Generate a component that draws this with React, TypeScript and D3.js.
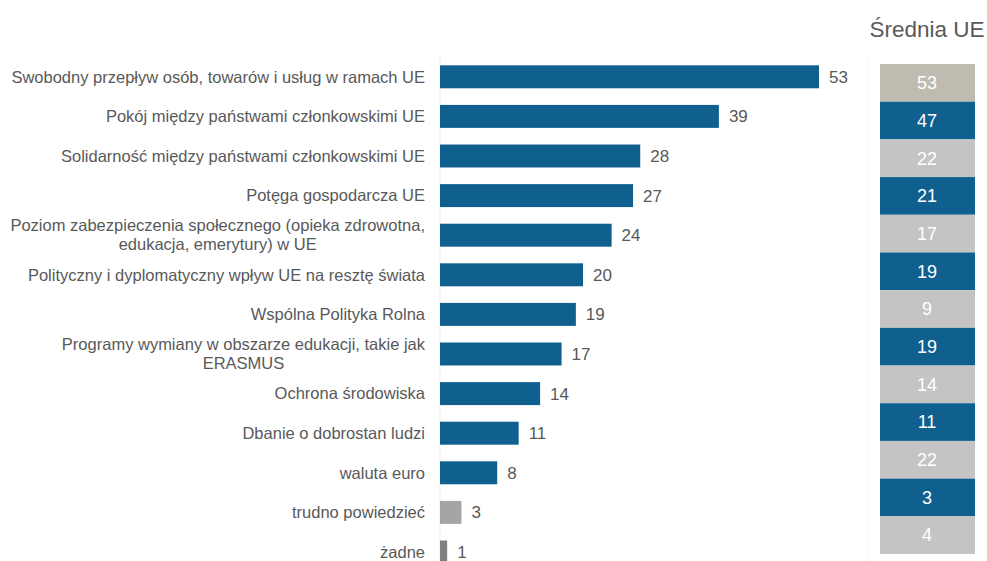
import React from "react";
import * as d3 from "d3";

const categories: string[][] = [
  ["Swobodny przepływ osób, towarów i usług w ramach UE"],
  ["Pokój między państwami członkowskimi UE"],
  ["Solidarność między państwami członkowskimi UE"],
  ["Potęga gospodarcza UE"],
  ["Poziom zabezpieczenia społecznego (opieka zdrowotna,", "edukacja, emerytury) w UE"],
  ["Polityczny i dyplomatyczny wpływ UE na resztę świata"],
  ["Wspólna Polityka Rolna"],
  ["Programy wymiany w obszarze edukacji, takie jak", "ERASMUS"],
  ["Ochrona środowiska"],
  ["Dbanie o dobrostan ludzi"],
  ["waluta euro"],
  ["trudno powiedzieć"],
  ["żadne"],
];
const values: number[] = [53, 39, 28, 27, 24, 20, 19, 17, 14, 11, 8, 3, 1];
const euAverage: number[] = [53, 47, 22, 21, 17, 19, 9, 19, 14, 11, 22, 3, 4];
const rowKinds: string[] = ["item", "item", "item", "item", "item", "item", "item", "item", "item", "item", "item", "dk", "none"];
const avgTitle = "Średnia UE";

const FONT = "'Liberation Sans', Arial, sans-serif";
const BLUE = "#0f5f8f";
const barColor: Record<string, string> = { item: BLUE, dk: "#a5a5a5", none: "#7f7f7f" };
const cellColors = ["#bfbbb1", BLUE, "#c4c4c4"];

let ctx: CanvasRenderingContext2D | null = null;
function measure(t: string, size: number) {
  if (!ctx) ctx = document.createElement("canvas").getContext("2d");
  if (!ctx) return t.length * size * 0.5;
  ctx.font = `${size}px 'Liberation Sans', Arial, sans-serif`;
  return ctx.measureText(t).width;
}

export default function App() {
  const W = 987, H = 561;
  const idx = values.map((_, i) => String(i));
  const x = d3.scaleLinear().domain([0, 53]).range([440, 819]);
  const y = d3.scaleBand().domain(idx).range([57, 57 + 13 * 39.6]).paddingInner(0.42).paddingOuter(0.21);
  const yc = d3.scaleBand().domain(idx).range([64, 554]).paddingInner(0);
  const labelRight = 425;
  const fs = 16.5;

  return (
    <svg width={W} height={H} style={{ position: "absolute", left: 0, top: 0, background: "#fff" }} fontFamily={FONT}>
      <rect x={0} y={0} width={W} height={H} fill="#fff" />
      <line x1={440} x2={440} y1={55} y2={H} stroke="#eeeeee" strokeWidth={1} />
      <line x1={868} x2={868} y1={58} y2={H} stroke="#f3f3f3" strokeWidth={1} />
      {values.map((v, i) => {
        const yy = y(String(i))!;
        const bh = y.bandwidth();
        const cy = yy + bh / 2;
        const lines = categories[i];
        let labelEls;
        if (lines.length === 1) {
          labelEls = (
            <text x={labelRight} y={cy} dy="0.35em" textAnchor="end" fontSize={fs} fill="#595959">{lines[0]}</text>
          );
        } else {
          const w0 = measure(lines[0], fs);
          const mid = labelRight - w0 / 2;
          labelEls = (
            <g>
              <text x={labelRight} y={cy - 9.5} dy="0.35em" textAnchor="end" fontSize={fs} fill="#595959">{lines[0]}</text>
              <text x={mid} y={cy + 9.5} dy="0.35em" textAnchor="middle" fontSize={fs} fill="#595959">{lines[1]}</text>
            </g>
          );
        }
        return (
          <g key={i}>
            {labelEls}
            <rect x={x(0)} y={yy} width={x(v) - x(0)} height={bh} fill={barColor[rowKinds[i]]} />
            <text x={x(v) + 10} y={cy} dy="0.35em" fontSize={17} fill="#595959">{v}</text>
          </g>
        );
      })}
      <text x={927} y={37} textAnchor="middle" fontSize={22.5} fill="#595959">{avgTitle}</text>
      {euAverage.map((v, i) => {
        const yy = yc(String(i))!;
        const h = yc.bandwidth();
        const fill = i === 0 ? cellColors[0] : i % 2 === 1 ? cellColors[1] : cellColors[2];
        return (
          <g key={"c" + i}>
            <rect x={880} y={yy} width={95} height={h} fill={fill} />
            <text x={927} y={yy + h / 2} dy="0.35em" textAnchor="middle" fontSize={18} fill="#ffffff">{v}</text>
          </g>
        );
      })}
    </svg>
  );
}
